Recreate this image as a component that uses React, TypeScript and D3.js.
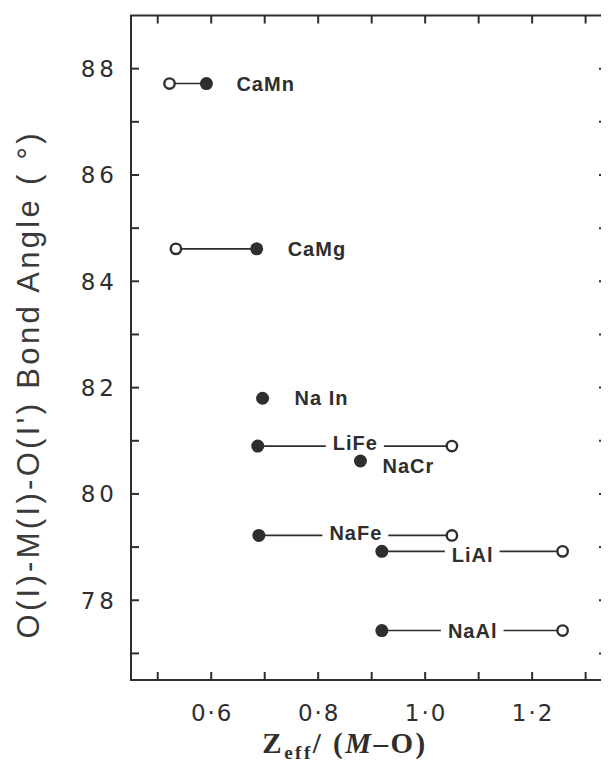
import { useEffect, useRef } from "react";
import * as d3 from "d3";

const W = 609, H = 767;
const INK = "#2e2e2e";

const compounds = ["CaMn", "CaMg", "Na In", "LiFe", "NaCr", "NaFe", "LiAl", "NaAl"];
const angle = [87.72, 84.61, 81.8, 80.9, 80.62, 79.22, 78.92, 77.43];
const zFilled = [0.591, 0.685, 0.696, 0.687, 0.879, 0.689, 0.919, 0.919];
const zOpen: (number | null)[] = [0.522, 0.534, null, 1.05, null, 1.05, 1.257, 1.257];

const xTicks = [0.6, 0.8, 1.0, 1.2];
const xTickLabels = ["0·6", "0·8", "1·0", "1·2"];
const xMinor = [0.5, 0.6, 0.7, 0.8, 0.9, 1.0, 1.1, 1.2, 1.3];
const yTicks = [78, 80, 82, 84, 86, 88];
const yMinor = [77, 78, 79, 80, 81, 82, 83, 84, 85, 86, 87, 88];

// where each name sits: beside the filled dot, or breaking the joining line
const labelPos: Record<string, { mode: "side" | "mid"; dx: number; dy: number }> = {
  CaMn: { mode: "side", dx: 30, dy: 0 },
  CaMg: { mode: "side", dx: 31, dy: 0 },
  "Na In": { mode: "side", dx: 32, dy: 0 },
  LiFe: { mode: "mid", dx: 0, dy: -3 },
  NaCr: { mode: "side", dx: 22, dy: 5 },
  NaFe: { mode: "mid", dx: 0, dy: -3 },
  LiAl: { mode: "mid", dx: 0, dy: 3 },
  NaAl: { mode: "mid", dx: 0, dy: 0 },
};

export default function App() {
  const ref = useRef<SVGSVGElement>(null);

  useEffect(() => {
    const svg = d3.select(ref.current);
    svg.selectAll("*").remove();

    const x = d3.scaleLinear([0.45, 1.34], [131, 607]);
    const y = d3.scaleLinear([76.5, 89], [680, 15.5]);
    const [x0, x1] = x.range();
    const [y0, y1] = y.range();

    // frame
    svg.append("rect")
      .attr("x", x0).attr("y", y1).attr("width", x1 - x0).attr("height", y0 - y1)
      .attr("fill", "none").attr("stroke", INK).attr("stroke-width", 2);

    // inward ticks on all four sides
    const TL = 8;
    const g = svg.append("g").attr("stroke", INK).attr("stroke-width", 2);
    xMinor.forEach((v) => {
      g.append("line").attr("x1", x(v)).attr("x2", x(v)).attr("y1", y0).attr("y2", y0 - TL);
      g.append("line").attr("x1", x(v)).attr("x2", x(v)).attr("y1", y1).attr("y2", y1 + TL);
    });
    yMinor.forEach((v) => {
      g.append("line").attr("x1", x0).attr("x2", x0 + TL).attr("y1", y(v)).attr("y2", y(v));
      g.append("line").attr("x1", x1).attr("x2", x1 - TL).attr("y1", y(v)).attr("y2", y(v));
    });

    // tick labels
    const tickFont = "'DejaVu Sans', sans-serif";
    yTicks.forEach((v) => {
      svg.append("text").attr("x", 118).attr("y", y(v)).attr("dy", "0.36em")
        .attr("text-anchor", "end").attr("font-family", tickFont).attr("font-size", 23)
        .attr("letter-spacing", 4).attr("fill", INK).text(String(v));
    });
    xTicks.forEach((v, i) => {
      svg.append("text").attr("x", x(v) + 1).attr("y", 721)
        .attr("text-anchor", "middle").attr("font-family", tickFont).attr("font-size", 23)
        .attr("letter-spacing", 2).attr("fill", INK).text(xTickLabels[i]);
    });

    // axis titles
    svg.append("text")
      .attr("transform", "translate(39,386) rotate(-90)")
      .attr("text-anchor", "middle").attr("font-family", "'Liberation Sans', Arial, sans-serif")
      .attr("font-size", 31).attr("fill", "#3a3a3a")
      .attr("textLength", 505).attr("lengthAdjust", "spacing")
      .text("O(I)-M(I)-O(I')  Bond  Angle  ( °)");

    const xt = svg.append("text").attr("x", 345).attr("y", 753).attr("text-anchor", "middle")
      .attr("font-family", "'Liberation Serif', 'DejaVu Serif', serif").attr("font-weight", "bold")
      .attr("font-size", 29).attr("letter-spacing", 2.5).attr("fill", INK);
    xt.append("tspan").text("Z");
    xt.append("tspan").attr("font-size", 19).attr("dy", 6).text("eff");
    xt.append("tspan").attr("dy", -6).text("/ (");
    xt.append("tspan").attr("font-style", "italic").text("M");
    xt.append("tspan").text("–O)");

    // points, joining lines and names
    const lineG = svg.append("g").attr("stroke", INK).attr("stroke-width", 1.6);
    const dotG = svg.append("g");
    compounds.forEach((name, i) => {
      const cy = y(angle[i]);
      const fx = x(zFilled[i]);
      const oz = zOpen[i];
      const pos = labelPos[name];
      const label = svg.append("text")
        .attr("font-family", "'Liberation Sans', Arial, sans-serif").attr("font-weight", "bold")
        .attr("font-size", 20).attr("letter-spacing", 1).attr("fill", INK)
        .attr("dy", "0.36em").text(name);

      if (oz != null) {
        const ox = x(oz);
        if (pos.mode === "mid") {
          const mx = (fx + ox) / 2;
          label.attr("x", mx + 0.5).attr("y", cy + pos.dy).attr("text-anchor", "middle");
          const bb = (label.node() as SVGTextElement).getBBox();
          const gap = 7;
          lineG.append("line").attr("x1", fx).attr("x2", bb.x - gap).attr("y1", cy).attr("y2", cy);
          lineG.append("line").attr("x1", bb.x + bb.width - 1 + gap).attr("x2", ox).attr("y1", cy).attr("y2", cy);
        } else {
          lineG.append("line").attr("x1", fx).attr("x2", ox).attr("y1", cy).attr("y2", cy);
        }
        dotG.append("circle").attr("cx", ox).attr("cy", cy).attr("r", 5.2)
          .attr("fill", "white").attr("stroke", INK).attr("stroke-width", 2.4);
      }
      if (pos.mode === "side") {
        label.attr("x", fx + pos.dx).attr("y", cy + pos.dy).attr("text-anchor", "start");
      }
      dotG.append("circle").attr("cx", fx).attr("cy", cy).attr("r", 6.5).attr("fill", INK);
    });
  }, []);

  return (
    <div style={{ margin: -8 }}>
      <svg ref={ref} width={W} height={H} style={{ display: "block", background: "white" }} />
    </div>
  );
}
